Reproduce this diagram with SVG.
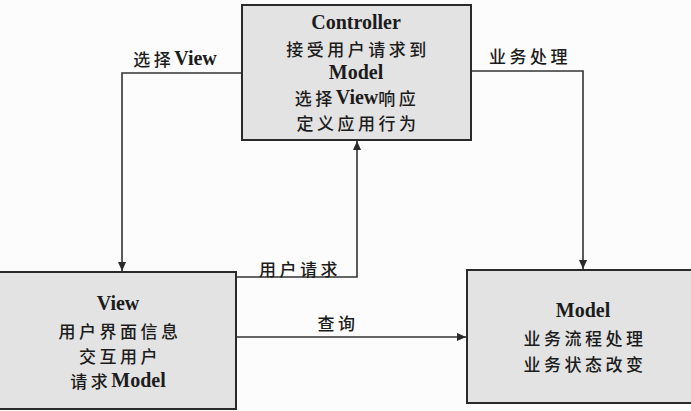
<svg xmlns="http://www.w3.org/2000/svg" width="691" height="411" viewBox="0 0 691 411">
<defs>
<marker id="arr" viewBox="0 0 10 10" refX="10" refY="5" markerWidth="10" markerHeight="9" markerUnits="userSpaceOnUse" orient="auto">
<path d="M0,0.5 L10,5 L0,9.5 Z" fill="#2a2a2a"/>
</marker>
</defs>
<style>
.box{fill:#e3e3e3;stroke:#2a2a2a;stroke-width:2}
.t{font-family:"Noto Sans CJK SC","Liberation Serif",sans-serif;font-size:17px;font-weight:500;fill:#1c1c1c;text-anchor:middle;dominant-baseline:central;letter-spacing:3.5px}
.b{font-family:"Liberation Serif",serif;font-size:20px;font-weight:bold;letter-spacing:0}
.line{fill:none;stroke:#333;stroke-width:1.6;marker-end:url(#arr)}
</style>
<rect x="0" y="0" width="691" height="411" fill="#fcfcfc"/>
<g id="connectors">
<path class="line" d="M242,73 H122 V271"/>
<path class="line" d="M471,71 H583 V269"/>
<path class="line" d="M236,277 H357 V141"/>
<path class="line" d="M236,337 H466"/>
<text class="t" x="175" y="58">选择<tspan class="b">View</tspan></text>
<text class="t" x="530" y="55">业务处理</text>
<text class="t" x="300" y="268">用户请求</text>
<text class="t" x="338" y="322">查询</text>
</g>
<g id="controller">
<rect class="box" x="242" y="5" width="229" height="135"/>
<text class="t" x="356" y="22"><tspan class="b" x="356" y="22">Controller</tspan><tspan x="358" y="48">接受用户请求到</tspan><tspan class="b" x="356" y="72">Model</tspan><tspan x="357" y="97">选择<tspan class="b">View</tspan>响应</tspan><tspan x="358" y="122">定义应用行为</tspan></text>
</g>
<g id="view">
<rect class="box" x="-3" y="272" width="239" height="137"/>
<text class="t" x="118" y="303"><tspan class="b" x="118" y="303">View</tspan><tspan x="120" y="330">用户界面信息</tspan><tspan x="120" y="355">交互用户</tspan><tspan x="118" y="380">请求<tspan class="b">Model</tspan></tspan></text>
</g>
<g id="model">
<rect class="box" x="467" y="270" width="235" height="133"/>
<text class="t" x="583" y="310"><tspan class="b" x="583" y="310">Model</tspan><tspan x="585" y="337">业务流程处理</tspan><tspan x="585" y="363">业务状态改变</tspan></text>
</g>
</svg>
